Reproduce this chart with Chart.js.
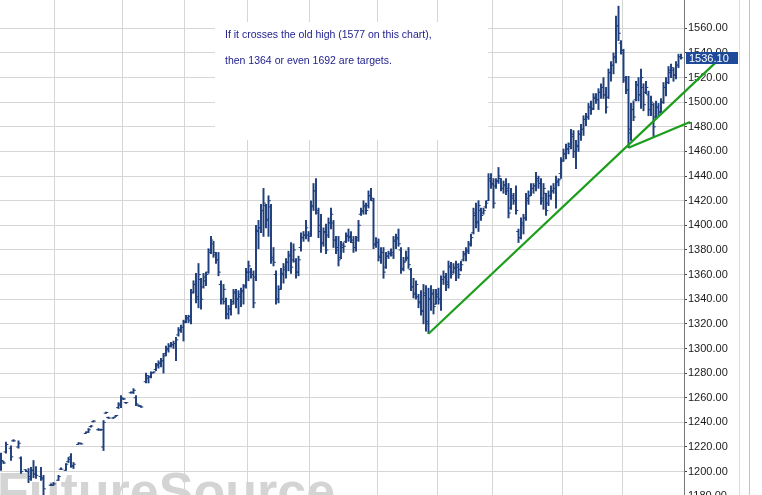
<!DOCTYPE html>
<html>
<head>
<meta charset="utf-8">
<script src="https://cdn.jsdelivr.net/npm/chart.js@4.4.1/dist/chart.umd.min.js"></script>
<style>
  html, body { margin: 0; padding: 0; background: #fff; }
  #wrap { position: relative; width: 762px; height: 495px; }
</style>
</head>
<body>
<div id="wrap"><canvas id="chart"></canvas></div>
<script>
// daily bars, one slot per session (null = no bar in that slot)
const opens = [
  1213, 1208, 1216, null, 1219, 1225, null, 1220, 1211, null,
  1201.5, 1200, 1194, 1201, 1198, null, 1196, 1195, null, null,
  1189, 1189, null, 1193, 1202, null, 1201, 1208, 1212, 1204,
  null, 1222, 1223, null, 1231, 1232, 1236.5, 1240.5, null, 1234,
  1234, 1220, 1247.5, 1244, null, 1243.5, 1245, 1252, 1255, 1259,
  1256, null, 1264, 1264, 1260, 1254, 1253, null,
  1273, 1276, 1277, 1280.5, 1283, 1286, 1288, 1290, 1296, 1299,
  1302, 1303, 1304, 1311, 1315, 1317, 1322, 1324, 1323, 1346,
  1352, 1340, 1356, 1350, 1355, 1362, 1380, 1385, 1376, 1372,
  1352, 1340, 1338, 1328, 1332, 1338, 1345, 1340, 1342, 1346,
  1351, 1362, 1362, 1360, 1358, 1396, 1398, 1412, 1416, 1404,
  1415, 1372, 1360, 1340, 1348, 1360, 1364, 1370, 1375, 1372,
  1371, 1362, 1382, 1390, 1392, 1392, 1393, 1416, 1428, 1410,
  1400, 1386, 1395, 1392, 1402, 1402, 1388, 1382, 1374, 1382,
  1387, 1391, 1391, 1386, 1382, 1390, 1409, 1411, 1415, 1416,
  1424, 1420, 1384, 1386, 1375, 1378, 1366, 1375, 1377, 1376,
  1387, 1389, 1380, 1365, 1371, 1373, 1364, 1350, 1345, 1342,
  1338, 1331, 1343,
  1322, 1340, 1344, 1336, 1342, 1340, 1356, 1358, 1354, 1366,
  1362, 1365, 1366, 1364, 1372, 1376, 1380, 1385, 1394, 1408,
  1403, 1412, 1410, 1415, 1420, 1436, 1433, 1432, 1436, 1438,
  1430, 1432, 1430, 1414, 1422, 1420, 1395, 1390, 1400, 1406,
  1420, 1424, 1430, 1432, 1436, 1434, 1422, 1426, 1418, 1424,
  1428, 1430, 1435, 1442, 1453, 1458, 1462, 1466, 1472, 1460,
  1464, 1474, 1478, 1486, 1488, 1496, 1495, 1503, 1502, 1508,
  1512, 1506, 1504, 1524, 1530, 1536, 1562, 1548, 1540, 1518,
  1510, 1478, 1494, 1502, 1514, 1506, 1512, 1508, 1506, 1494,
  1498, 1488, 1496, 1492, 1500, 1512, 1516, 1524, 1526, 1522,
  1530, 1537
];
const highs = [
  1215, 1208.5, 1224, null, 1221, 1226, null, 1225, 1212, null,
  1201.5, 1202.5, 1203.4, 1209, 1204, null, 1203.4, 1197, null, null,
  1190, 1191.2, null, 1197, 1203, null, 1206.6, 1211.5, 1214.7, 1207.4,
  null, 1223.6, 1223.2, null, 1232.3, 1235, 1237.4, 1241.5, null, 1235,
  1234.6, 1241.5, 1248.3, 1244.3, null, 1244.1, 1245.8, 1256, 1261.8, 1259.5,
  1256.3, null, 1264.8, 1267.4, 1261.8, 1254.2, 1253.4, null,
  1280, 1278, 1281, 1281, 1288, 1290, 1292, 1296, 1302, 1304,
  1305, 1306, 1309, 1317, 1319, 1323, 1327, 1327, 1348, 1355,
  1361, 1369, 1357, 1361, 1362, 1381, 1391, 1387, 1378, 1378,
  1355, 1352, 1341, 1335, 1340, 1348, 1348, 1347, 1349, 1352,
  1365, 1371, 1365, 1363, 1400, 1404, 1417, 1430, 1417, 1424,
  1417, 1382, 1363, 1351, 1365, 1369, 1373, 1379, 1386, 1385,
  1373, 1375, 1394, 1395, 1404, 1395, 1420, 1434, 1438, 1414,
  1409, 1398, 1401, 1406, 1414, 1404, 1391, 1391, 1387, 1386,
  1394, 1397, 1395, 1391, 1391, 1404, 1414, 1420, 1418, 1428,
  1430, 1422, 1390, 1389, 1382, 1382, 1378, 1379, 1381, 1391,
  1393, 1397, 1382, 1374, 1379, 1382, 1365, 1357, 1355, 1344,
  1347, 1352, 1351,
  1349, 1351, 1348, 1348, 1349, 1359, 1363, 1361, 1371, 1370,
  1369, 1371, 1369, 1371, 1379, 1382, 1387, 1393, 1414, 1418,
  1420, 1414, 1414, 1420, 1442, 1442, 1438, 1438, 1447, 1438,
  1436, 1438, 1434, 1430, 1426, 1432, 1397, 1406, 1409, 1426,
  1428, 1434, 1434, 1443, 1440, 1438, 1434, 1426, 1428, 1432,
  1434, 1440, 1438, 1455, 1462, 1466, 1467, 1478, 1477, 1469,
  1477, 1482, 1489, 1491, 1499, 1501, 1507, 1507, 1511, 1515,
  1520, 1512, 1527, 1533, 1540, 1570, 1578, 1550, 1543, 1521,
  1521, 1499, 1501, 1517, 1520, 1527, 1515, 1517, 1509, 1505,
  1499, 1501, 1499, 1503, 1516, 1520, 1529, 1531, 1528, 1533,
  1539, 1539
];
const lows = [
  1201, 1206.5, 1215, null, 1209, 1224.5, null, 1219, 1198.5, null,
  1200, 1191, 1192.8, 1195, 1194.4, null, 1192.8, 1180.7, null, null,
  1188.5, 1188.8, null, 1192.8, 1201.5, null, 1201, 1207.4, 1203.4, 1202.5,
  null, 1222, 1222.2, null, 1231, 1231.7, 1236, 1240.3, null, 1233.4,
  1233.4, 1217.1, 1247.2, 1243.1, null, 1243.1, 1244.8, 1251.2, 1252, 1258.4,
  1255.4, null, 1263.6, 1263.4, 1253.6, 1253, 1252.2, null,
  1272, 1272, 1276, 1280, 1282, 1284, 1285, 1280, 1294, 1297,
  1301, 1300, 1290, 1310, 1313, 1306, 1321, 1321, 1320, 1345,
  1337, 1333, 1332, 1349, 1351, 1361, 1377, 1374, 1369, 1359,
  1336, 1336, 1324, 1324, 1327, 1336, 1333, 1328, 1334, 1336,
  1349, 1355, 1357, 1333, 1355, 1381, 1394, 1391, 1398, 1391,
  1369, 1367, 1336, 1337, 1348, 1353, 1357, 1363, 1361, 1370,
  1357, 1359, 1379, 1387, 1389, 1387, 1391, 1412, 1409, 1390,
  1378, 1383, 1377, 1390, 1397, 1382, 1377, 1367, 1373, 1378,
  1386, 1387, 1386, 1378, 1379, 1387, 1408, 1409, 1409, 1414,
  1420, 1381, 1382, 1371, 1369, 1357, 1365, 1373, 1375, 1373,
  1381, 1383, 1361, 1363, 1371, 1365, 1347, 1341, 1340, 1333,
  1327, 1320, 1314,
  1312, 1331, 1328, 1336, 1336, 1331, 1352, 1347, 1349, 1357,
  1361, 1355, 1357, 1363, 1371, 1371, 1377, 1383, 1393, 1398,
  1395, 1404, 1409, 1414, 1420, 1430, 1414, 1430, 1434, 1428,
  1426, 1425, 1406, 1413, 1417, 1409, 1386, 1389, 1393, 1404,
  1417, 1424, 1426, 1428, 1430, 1417, 1413, 1408, 1416, 1421,
  1426, 1414, 1432, 1438, 1452, 1454, 1458, 1462, 1455, 1446,
  1460, 1469, 1473, 1481, 1486, 1490, 1494, 1499, 1494, 1503,
  1503, 1491, 1503, 1517, 1523, 1532, 1550, 1539, 1516, 1507,
  1463, 1469, 1485, 1501, 1501, 1495, 1493, 1507, 1489, 1489,
  1472, 1487, 1489, 1491, 1499, 1505, 1515, 1520, 1517, 1519,
  1528, 1535
];
const closes = [
  1209, 1207, 1222, null, 1212, 1225, null, 1223, 1200, null,
  1200, 1196, 1201, 1198, 1197, null, 1194, 1186, null, null,
  1189, 1190, null, 1196, 1202, null, 1206, 1210, 1205, 1206,
  null, 1223, 1222.5, null, 1232, 1234, 1237, 1241, null, 1234,
  1234, 1240, 1248, 1243.5, null, 1244, 1245.5, 1254, 1260, 1259,
  1256, null, 1264.5, 1266, 1255, 1253.5, 1252.5, null,
  1278, 1277, 1280, 1281, 1287, 1288, 1290, 1294, 1300, 1302,
  1303, 1304, 1307, 1315, 1317, 1321, 1325, 1326, 1345, 1352,
  1342, 1360, 1340, 1358, 1360, 1378, 1388, 1378, 1372, 1362,
  1340, 1348, 1328, 1332, 1336, 1346, 1340, 1344, 1347, 1350,
  1362, 1367, 1360, 1337, 1395, 1398, 1412, 1418, 1405, 1420,
  1374, 1370, 1340, 1348, 1361, 1366, 1370, 1376, 1366, 1380,
  1362, 1372, 1390, 1392, 1398, 1391, 1415, 1428, 1412, 1395,
  1385, 1394, 1380, 1402, 1409, 1388, 1380, 1372, 1384, 1383,
  1392, 1390, 1388, 1382, 1388, 1400, 1412, 1416, 1412, 1424,
  1422, 1385, 1386, 1374, 1378, 1362, 1375, 1377, 1378, 1388,
  1390, 1385, 1364, 1370, 1374, 1368, 1350, 1344, 1352, 1337,
  1330, 1345, 1320,
  1340, 1345, 1334, 1344, 1340, 1356, 1358, 1352, 1367, 1360,
  1366, 1368, 1360, 1368, 1377, 1379, 1384, 1390, 1410, 1402,
  1416, 1408, 1412, 1418, 1438, 1434, 1418, 1436, 1440, 1430,
  1433, 1428, 1410, 1424, 1420, 1412, 1390, 1402, 1406, 1422,
  1424, 1430, 1432, 1438, 1434, 1420, 1430, 1412, 1424, 1428,
  1430, 1436, 1437, 1452, 1458, 1462, 1464, 1474, 1460, 1465,
  1474, 1478, 1486, 1488, 1496, 1494, 1504, 1502, 1508, 1512,
  1506, 1496, 1524, 1530, 1537, 1562, 1556, 1542, 1520, 1510,
  1475, 1494, 1488, 1514, 1506, 1520, 1498, 1512, 1494, 1500,
  1480, 1496, 1492, 1500, 1512, 1516, 1526, 1528, 1522, 1530,
  1537, 1536.1
];

// first bar slot of each new month
const monthBreaks = [22, 49, 74, 99, 124, 151, 175, 197, 225, 249];
// price axis labels
const priceTicks = [1180, 1200, 1220, 1240, 1260, 1280, 1300, 1320, 1340, 1360,
  1380, 1400, 1420, 1440, 1460, 1480, 1500, 1520, 1540, 1560];

// hand-drawn trend lines: [slot, price] anchors
const trendMainSlots = [171, 285.6];
const trendMainPrices = [1312, 1531.7];
const trendLowSlots = [251, 275.6];
const trendLowPrices = [1463, 1484];

const noteLines = [
  'If it crosses the old high (1577 on this chart),',
  'then 1364 or even 1692 are targets.'
];
const watermark = 'FutureSource';

const barColor = '#1f3f7c';
const green = '#1c9e1c';

const rangeData = highs.map((h, i) => ({ x: i, y: h == null ? null : [lows[i], h] }));
const openData = opens.map((v, i) => ({ x: i - 0.45, y: v }));
const closeData = closes.map((v, i) => ({ x: i + 0.45, y: v }));
const pairs = (xs, ys) => xs.map((x, i) => ({ x: x, y: ys[i] }));

const noPad = s => { s.paddingTop = 0; s.paddingBottom = 0; s.paddingLeft = 0; s.paddingRight = 0; };

const decor = {
  id: 'decor',
  beforeDatasetsDraw(chart) {
    const ctx = chart.ctx;
    ctx.save();
    ctx.fillStyle = '#d4d4d4';
    ctx.font = 'bold 52px "Liberation Sans", Arial, sans-serif';
    ctx.textBaseline = 'alphabetic';
    ctx.fillText(watermark, -3, 509);

    ctx.fillStyle = '#ffffff';
    ctx.fillRect(215, 22, 273, 118);
    ctx.fillStyle = '#1c1c8c';
    ctx.font = '10.5px "Liberation Sans", Arial, sans-serif';
    noteLines.forEach((t, i) => ctx.fillText(t, 225, 38 + i * 26));
    ctx.restore();
  },
  afterDraw(chart) {
    const ctx = chart.ctx;
    const y = chart.scales.y;
    ctx.save();
    ctx.strokeStyle = '#dcdcdc';
    ctx.lineWidth = 1;
    ctx.beginPath(); ctx.moveTo(739.5, 0); ctx.lineTo(739.5, 495); ctx.stroke();
    ctx.strokeStyle = '#c4c4c4';
    ctx.beginPath(); ctx.moveTo(749.5, 0); ctx.lineTo(749.5, 495); ctx.stroke();

    // last price tag
    const last = closes[closes.length - 1];
    const py = y.getPixelForValue(last);
    ctx.fillStyle = '#1f4a9a';
    ctx.fillRect(686, Math.round(py) - 6, 52, 12);
    ctx.fillStyle = '#ffffff';
    ctx.font = '11px "Liberation Sans", Arial, sans-serif';
    ctx.textBaseline = 'middle';
    ctx.fillText(last.toFixed(2), 689, Math.round(py) + 0.5);
    ctx.restore();
  }
};

new Chart(document.getElementById('chart'), {
  type: 'bar',
  data: {
    datasets: [
      {
        type: 'bar',
        data: rangeData,
        backgroundColor: barColor,
        borderWidth: 0,
        barThickness: 1.3,
        order: 3
      },
      {
        type: 'scatter',
        data: openData,
        pointStyle: 'line',
        pointRadius: 1.2,
        pointBorderWidth: 1,
        borderColor: barColor,
        order: 2
      },
      {
        type: 'scatter',
        data: closeData,
        pointStyle: 'line',
        pointRadius: 1.2,
        pointBorderWidth: 1,
        borderColor: barColor,
        order: 2
      },
      {
        type: 'line',
        data: pairs(trendMainSlots, trendMainPrices),
        borderColor: green,
        borderWidth: 2.2,
        pointRadius: 0,
        clip: false,
        order: 1
      },
      {
        type: 'line',
        data: pairs(trendLowSlots, trendLowPrices),
        borderColor: green,
        borderWidth: 2.2,
        pointRadius: 0,
        clip: false,
        order: 1
      }
    ]
  },
  options: {
    responsive: true,
    maintainAspectRatio: false,
    animation: false,
    events: [],
    layout: { padding: 0, autoPadding: false },
    plugins: { legend: { display: false }, tooltip: { enabled: false } },
    scales: {
      x: {
        type: 'linear',
        min: -0.4,
        max: 273.2,
        offset: false,
        grid: { color: '#d6d6d6', lineWidth: 1, drawTicks: false, offset: false },
        border: { display: false },
        ticks: { display: false },
        afterBuildTicks: s => { s.ticks = monthBreaks.map(v => ({ value: v - 0.5 })); },
        afterFit: s => { s.height = 0; noPad(s); }
      },
      y: {
        type: 'linear',
        position: 'right',
        min: 1181,
        max: 1583,
        grid: { color: '#d6d6d6', lineWidth: 1, drawTicks: true, tickLength: 3, tickColor: '#444' },
        border: { display: true, color: '#777', width: 1 },
        ticks: {
          autoSkip: false,
          padding: 1,
          color: '#1a1a1a',
          font: { family: '"Liberation Sans", Arial, sans-serif', size: 11 },
          callback: v => Number(v).toFixed(2)
        },
        afterBuildTicks: s => { s.ticks = priceTicks.map(v => ({ value: v })); },
        afterFit: s => { s.width = 78; noPad(s); }
      }
    }
  },
  plugins: [decor]
});
</script>
</body>
</html>
